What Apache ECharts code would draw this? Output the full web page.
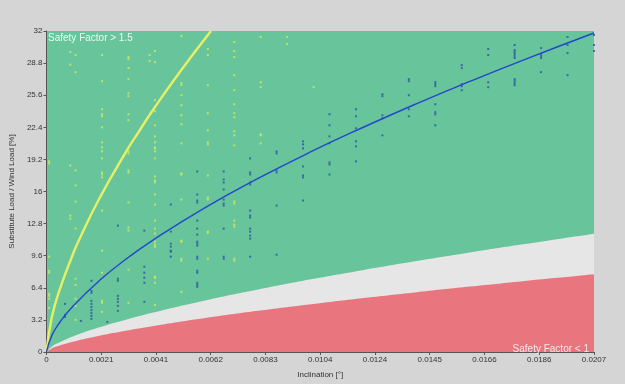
<!DOCTYPE html>
<html>
<head>
<meta charset="utf-8">
<script src="https://cdn.jsdelivr.net/npm/echarts@6/dist/echarts.min.js"></script>
<style>
  html, body { margin: 0; padding: 0; background: #d5d5d5; }
  #chart { width: 625px; height: 384px; }
</style>
</head>
<body>
<div id="chart"></div>
<script>
// Axis tick labels
const xTickLabels = ['0', '0.0021', '0.0041', '0.0062', '0.0083', '0.0104', '0.0124', '0.0145', '0.0166', '0.0186', '0.0207'];
const yTickLabels = ['0', '3.2', '6.4', '9.6', '12.8', '16', '19.2', '22.4', '25.6', '28.8', '32'];

// Boundary curves: inclination vs load
const curveX      = [0, 0.0002, 0.0005, 0.001, 0.002, 0.003, 0.004, 0.006, 0.008, 0.010, 0.012, 0.014, 0.016, 0.018, 0.0207];
const sfOneY      = [0, 0.35, 0.64, 1.02, 1.62, 2.12, 2.57, 3.38, 4.10, 4.76, 5.38, 5.96, 6.52, 7.06, 7.75];
const sfOneHalfY  = [0, 0.53, 0.97, 1.55, 2.46, 3.22, 3.91, 5.14, 6.23, 7.24, 8.18, 9.06, 9.91, 10.73, 11.8];
const fitY        = [0, 1.63, 2.94, 4.57, 7.12, 9.24, 11.11, 14.40, 17.30, 19.97, 22.43, 24.76, 26.97, 29.08, 31.8];

// Design limit curve
const limitX = [0, 0.0002, 0.0005, 0.001, 0.0012, 0.002, 0.003, 0.0035, 0.004, 0.005, 0.00622];
const limitY = [0, 3.43, 6.22, 9.75, 11.0, 15.3, 19.92, 22.0, 24.02, 27.77, 32];

// Measured samples, light group: [inclination, loads]
const lightCols = [
  [0.0001, [19.0, 18.8, 9.5, 8.1, 7.9, 5.8, 5.6, 5.3, 4.4]],
  [0.0009, [29.9, 28.65, 18.6, 13.6, 13.3]],
  [0.0011, [29.6, 27.9, 18.1, 16.6, 15.0, 12.3, 7.3, 6.7, 5.3, 4.6, 3.2]],
  [0.0021, [29.6, 27.0, 24.2, 23.7, 23.5, 22.4, 20.9, 20.4, 20.0, 19.3, 17.9, 17.7, 17.4, 15.7, 14.1, 10.1, 7.9, 5.1, 4.9, 4.0]],
  [0.0031, [29.4, 29.2, 28.3, 27.2, 25.8, 25.5, 23.7, 23.1, 20.0, 19.8, 18.1, 17.9, 14.9, 12.4, 12.1, 9.45, 8.2, 4.9]],
  [0.0039, [29.6, 29.0]],
  [0.0041, [30.0, 28.9, 25.1, 24.0, 22.6, 21.5, 20.9, 20.4, 20.3, 20.0, 19.3, 17.5, 17.1, 16.9, 15.7, 14.7, 13.1, 12.3, 11.8, 11.0, 10.7, 10.5, 7.5, 7.4, 6.9, 4.7]],
  [0.0051, [31.5, 26.8, 26.6, 25.6, 24.6, 23.6, 22.7, 20.8, 17.8, 17.7, 15.2, 11.1, 11.0, 9.3, 9.1, 6.0]],
  [0.0061, [30.2, 29.6, 26.6, 23.8, 22.1, 20.9, 20.7, 17.6, 15.4, 15.2, 12.0, 11.9, 9.3]],
  [0.0071, [30.9, 30.0, 29.4, 27.6, 26.1, 24.7, 23.8, 23.4, 22.0, 21.6, 20.6, 15.0, 14.8, 13.1, 12.7, 12.5, 9.3, 9.1]],
  [0.0081, [31.4, 26.9, 26.4, 21.7, 21.6, 20.8]],
  [0.0091, [31.4, 30.7]],
  [0.0101, [26.4]]
];

// Measured samples, dark group: [inclination, loads]
const darkCols = [
  [0.0007, [4.8, 3.7, 3.5]],
  [0.0013, [3.1]],
  [0.0017, [7.1, 6.1, 5.9, 5.1, 4.8, 4.5, 4.2, 3.9, 3.6, 3.3]],
  [0.0023, [3.0]],
  [0.0027, [12.6, 7.3, 7.1, 5.6, 5.3, 5.0, 4.6, 4.1]],
  [0.0037, [12.1, 8.5, 7.9, 7.4, 6.9, 5.0]],
  [0.0047, [14.7, 12.0, 10.8, 10.5, 10.1, 10.0, 9.5]],
  [0.0057, [18.0, 15.7, 15.1, 14.9, 13.1, 12.3, 11.7, 11.0, 10.8, 10.6, 9.5, 9.3, 8.1, 7.9, 6.9, 6.7, 6.5]],
  [0.0067, [18.0, 17.2, 16.9, 16.2, 15.2, 14.8, 14.6, 12.3, 9.5, 9.3]],
  [0.0077, [19.3, 17.9, 17.7, 16.9, 16.7, 14.1, 13.6, 13.4, 12.3, 12.0, 11.6, 11.3, 9.5]],
  [0.0087, [20.0, 19.8, 18.1, 17.9, 14.6, 9.7]],
  [0.0097, [21.0, 20.7, 20.3, 18.5, 17.6, 17.4, 15.1]],
  [0.0107, [23.7, 22.6, 21.5, 20.8, 18.9, 18.7, 17.7]],
  [0.0117, [24.2, 23.5, 22.3, 21.0, 20.5, 19.0]],
  [0.0127, [25.7, 25.5, 23.6, 23.3, 21.6]],
  [0.0137, [27.2, 27.0, 25.6, 24.2, 23.5]],
  [0.0147, [26.9, 26.7, 26.5, 24.7, 23.9, 23.7, 22.6]],
  [0.0157, [28.6, 28.3, 26.7, 26.5, 26.1]],
  [0.0167, [30.2, 29.6, 26.9, 26.4]],
  [0.0177, [30.6, 30.1, 29.9, 29.7, 29.5, 29.3, 27.2, 27.0, 26.8, 26.6]],
  [0.0187, [30.3, 29.7, 29.5, 29.3, 27.9]],
  [0.0197, [31.4, 30.6, 29.8, 27.6]],
  [0.0207, [31.6, 30.6, 30.0]]
];

const pairs = (xs, ys) => xs.map((x, i) => [x, ys[i]]);
const flatten = cols => cols.flatMap(([x, ys]) => ys.map(y => [x, y]));

const chart = echarts.init(document.getElementById('chart'));
const fontFamily = '"Liberation Sans", Arial, sans-serif';

chart.setOption({
  backgroundColor: '#d5d5d5',
  animation: false,
  grid: {
    left: 45, right: 31, top: 31, bottom: 27,
    show: true, backgroundColor: '#68c49a', borderWidth: 0
  },
  xAxis: {
    type: 'value', min: 0, max: 0.0207, interval: 0.00207,
    name: 'Inclination [°]', nameLocation: 'middle', nameGap: 19,
    nameTextStyle: { fontFamily, fontSize: 8, color: '#333' },
    axisLine: { lineStyle: { color: '#555', width: 1 } },
    axisTick: { length: 3, lineStyle: { color: '#555' } },
    axisLabel: {
      fontFamily, fontSize: 8, color: '#333', margin: 4,
      formatter: v => xTickLabels[Math.round(v / 0.00207)] || ''
    },
    splitLine: { show: false }
  },
  yAxis: {
    type: 'value', min: 0, max: 32, interval: 3.2,
    name: 'Substitute Load / Wind Load [%]', nameLocation: 'middle', nameGap: 24,
    nameTextStyle: { fontFamily, fontSize: 8, color: '#333' },
    axisLine: { show: true, lineStyle: { color: '#555', width: 1 } },
    axisTick: { show: true, length: 3, lineStyle: { color: '#555' } },
    axisLabel: {
      fontFamily, fontSize: 8, color: '#333', margin: 4,
      formatter: v => yTickLabels[Math.round(v / 3.2)] || ''
    },
    splitLine: { show: false }
  },
  series: [
    {
      name: 'Safety Factor 1.5', type: 'line', smooth: true, symbol: 'none',
      data: pairs(curveX, sfOneHalfY),
      lineStyle: { width: 0 },
      areaStyle: { color: '#e6e6e6', opacity: 1, origin: 'start' },
      z: 1
    },
    {
      name: 'Safety Factor 1', type: 'line', smooth: true, symbol: 'none',
      data: pairs(curveX, sfOneY),
      lineStyle: { width: 0 },
      areaStyle: { color: '#e9767e', opacity: 1, origin: 'start' },
      z: 2
    },
    {
      name: 'Light samples', type: 'scatter', symbol: 'rect', symbolSize: 2,
      data: flatten(lightCols),
      itemStyle: { color: '#d2ec5c' },
      z: 3
    },
    {
      name: 'Dark samples', type: 'scatter', symbol: 'rect', symbolSize: 2,
      data: flatten(darkCols),
      itemStyle: { color: '#2c55a6' },
      z: 4
    },
    {
      name: 'Limit', type: 'line', smooth: true, symbol: 'none',
      data: pairs(limitX, limitY),
      lineStyle: { color: '#e6f064', width: 2.4 },
      z: 5
    },
    {
      name: 'Fit', type: 'line', smooth: true, symbol: 'none',
      data: pairs(curveX, fitY),
      lineStyle: { color: '#2347cc', width: 1.4 },
      z: 6
    }
  ],
  graphic: [
    {
      type: 'text', left: 48, top: 33, z: 10,
      style: { text: 'Safety Factor > 1.5', fill: '#eef7f0', font: '10px ' + fontFamily }
    },
    {
      type: 'text', right: 36, top: 344, z: 10,
      style: { text: 'Safety Factor < 1', fill: '#f8e8ea', font: '10px ' + fontFamily }
    }
  ]
});
</script>
</body>
</html>
